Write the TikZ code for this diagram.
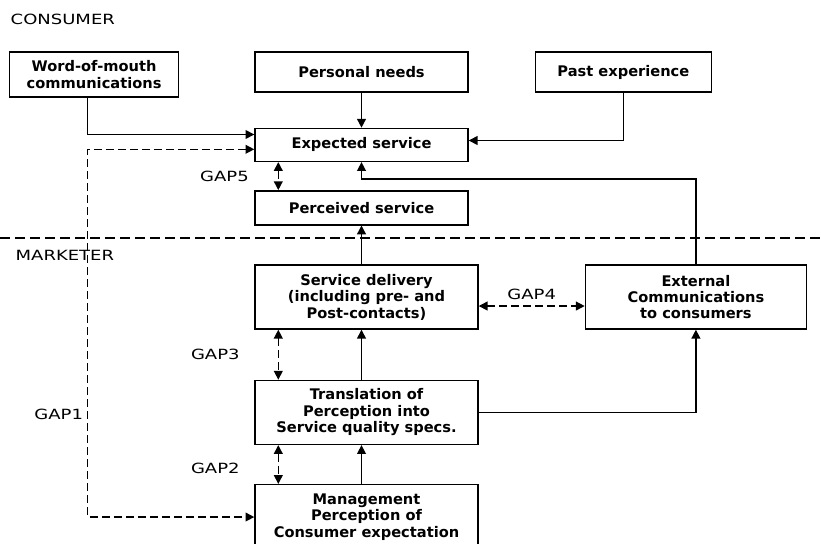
\documentclass[tikz,border=0pt]{standalone}
\usepackage{fontspec}
\setmainfont{DejaVu Sans}
\newfontfamily\widefont{DejaVu Sans}[FakeStretch=1.28]
\usetikzlibrary{arrows.meta, positioning, calc}

\begin{document}
\begin{tikzpicture}[auto, line width=1pt, >={Triangle[length=2.2mm,width=2.2mm]},
    box/.style={draw, rectangle, align=center, inner sep=2pt, font=\bfseries\fontsize{10.4}{11.7}\selectfont},
    gapline/.style={<->, dashed, dash pattern=on 2mm off 1mm},
    gaplabel/.style={inner sep=0pt, font=\widefont\fontsize{10}{12}\selectfont},
    lane/.style={inner sep=0pt, anchor=west, font=\widefont\fontsize{10}{12}\selectfont}]
    \clip (0,0) rectangle (20.525,-13.6);

    % Nodes
    \node (needs) [box, minimum width=5.325cm, minimum height=1cm] at (9.0375,-1.8) {Personal needs};
    \node (wom) [box, minimum width=4.225cm, minimum height=1.125cm, left=1.875cm of needs.north west, anchor=north east] {Word-of-mouth\\communications};
    \node (past) [box, minimum width=4.4cm, minimum height=1cm, right=1.65cm of needs] {Past experience};
    \node (expect) [box, minimum width=5.325cm, minimum height=0.825cm, below=0.875cm of needs] {Expected service};
    \node (perceive) [box, minimum width=5.325cm, minimum height=0.85cm, below=0.7cm of expect] {Perceived service};
    \node (deliver) [box, minimum width=5.575cm, minimum height=1.6cm, below=0.97cm of perceive.south west, anchor=north west] {Service delivery\\(including pre- and\\Post-contacts)};
    \node (extcom) [box, minimum width=5.525cm, minimum height=1.6cm, right=2.65cm of deliver] {External\\Communications\\to consumers};
    \node (transl) [box, minimum width=5.575cm, minimum height=1.6cm, below=1.25cm of deliver] {Translation of\\Perception into\\Service quality specs.};
    \node (mgmt) [box, minimum width=5.575cm, minimum height=1.62cm, below=0.97cm of transl] {Management\\Perception of\\Consumer expectation};
    \coordinate (gapx) at ($(wom.south)+(-0.16,0)$);

    % Consumer / marketer split
    \node (consumer) [lane] at (0.25,-0.475) {CONSUMER};
    \node (marketer) [lane] at (0.375,-6.375) {MARKETER};
    \draw[line width=0.9pt, dash pattern=on 2.5mm off 1.25mm] (0,-5.95) -- (20.525,-5.95);

    % Flows
    \draw[->] (gapx) |- ($(expect.west)+(0,0.26)$);
    \draw[->] (needs) -- (expect);
    \draw[->] (past.south) |- ($(expect.east)+(0,0.11)$);
    \draw[->] (extcom.north) |- ($(expect.south)+(0,-0.425)$) -- (expect.south);
    \draw[->] (deliver.north -| perceive.south) -- (perceive.south);
    \draw[->] (transl.north -| perceive.south) -- (deliver.south -| perceive.south);
    \draw[->] (mgmt.north -| perceive.south) -- (transl.south -| perceive.south);
    \draw[->] (transl.east) -| (extcom.south);

    % Gaps
    \draw[gapline] ($(expect.west)+(0,-0.11)$) -| node[gaplabel, left=0.1cm, pos=0.86] {GAP1} (gapx |- mgmt.west) -- (mgmt.west);
    \draw[gapline] ($(transl.south west)+(0.6,0)$) -- node[gaplabel, left=0.95cm, yshift=-0.1cm] {GAP2} ($(mgmt.north west)+(0.6,0)$);
    \draw[gapline] ($(deliver.south west)+(0.6,0)$) -- node[gaplabel, left=0.95cm] {GAP3} ($(transl.north west)+(0.6,0)$);
    \draw[gapline] ($(deliver.east)+(0,-0.225)$) -- node[gaplabel, above=0.14cm] {GAP4} ($(extcom.west)+(0,-0.225)$);
    \draw[gapline] ($(expect.south west)+(0.6,0)$) -- node[gaplabel, left=0.72cm] {GAP5} ($(perceive.north west)+(0.6,0)$);
\end{tikzpicture}
\end{document}
